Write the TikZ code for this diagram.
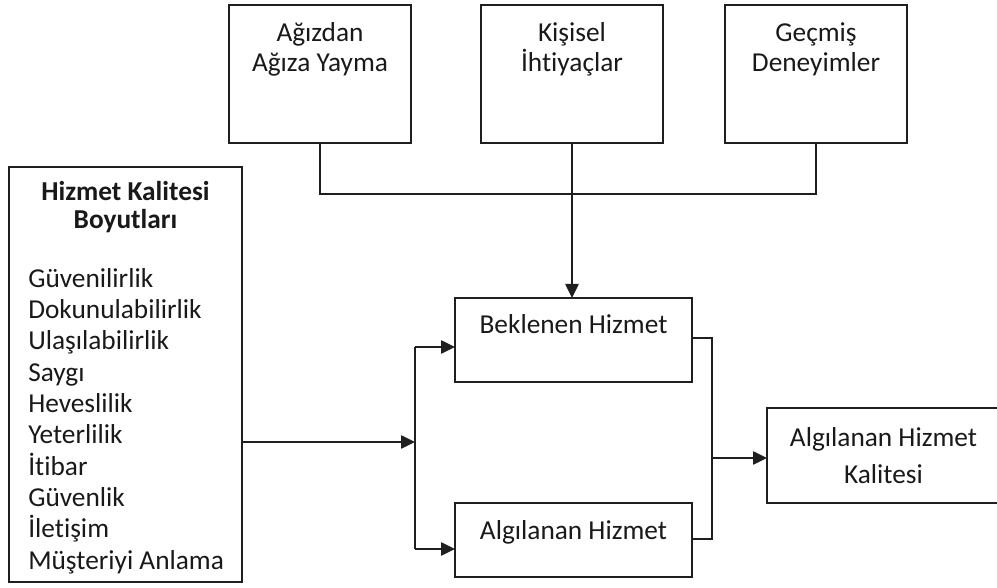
\documentclass[tikz,border=0pt]{standalone}
\usepackage{fontspec}
\setmainfont{Carlito}[Ligatures=NoCommon]
\usetikzlibrary{arrows.meta}

\tikzset{
  frame/.style={draw=black!88, line width=1.1pt, inner sep=0pt, outer sep=0pt},
  txt/.style={inner sep=0pt, anchor=base, text=black!90, font=\fontsize{20.5}{23.5}\selectfont},
  link/.style={draw=black!88, line width=1.1pt},
  arr/.style={link, -{Triangle[length=10.5pt, width=10pt]}}
}

\begin{document}
\begin{tikzpicture}[x=0.75pt, y=-0.75pt]
\useasboundingbox (0,0) rectangle (997,588);

% source boxes along the top
\node[frame, minimum width=136.5pt, minimum height=103.5pt] (b1) at (320,74) {};
\node[frame, minimum width=136.5pt, minimum height=103.5pt] (b2) at (572,74) {};
\node[frame, minimum width=136.5pt, minimum height=103.5pt] (b3) at (816,74) {};
\node[txt] (b1a) at (320,42) {Ağızdan};
\node[txt] (b1b) at (320,72) {Ağıza Yayma};
\node[txt] (b2a) at (572,42) {Kişisel};
\node[txt] (b2b) at (572,72) {İhtiyaçlar};
\node[txt] (b3a) at (816,42) {Geçmiş};
\node[txt] (b3b) at (816,72) {Deneyimler};

% service quality dimensions
\node[frame, minimum width=174.75pt, minimum height=311.25pt] (hkb) at (125.5,374.5) {};
\node[txt, font=\fontsize{20.5}{23.5}\selectfont\bfseries] (hk1) at (125.5,201) {Hizmet Kalitesi};
\node[txt, font=\fontsize{20.5}{23.5}\selectfont\bfseries] (hk2) at (125.5,229) {Boyutları};
\node[txt, anchor=base west, align=left] (hkl) at (28,569)
  {Güvenilirlik\\Dokunulabilirlik\\Ulaşılabilirlik\\Saygı\\Heveslilik\\Yeterlilik\\İtibar\\Güvenlik\\İletişim\\Müşteriyi Anlama};

% expected / perceived service
\node[frame, minimum width=177.75pt, minimum height=63pt] (bek) at (573.5,340) {};
\node[txt] (bekt) at (573.5,334) {Beklenen Hizmet};
\node[frame, minimum width=177.75pt, minimum height=55.5pt] (alg) at (573.5,540) {};
\node[txt] (algt) at (573.5,539) {Algılanan Hizmet};

% perceived service quality
\node[frame, minimum width=174.75pt, minimum height=71.25pt] (fin) at (883.5,455.5) {};
\node[txt] (fin1) at (883.5,446) {Algılanan Hizmet};
\node[txt] (fin2) at (883.5,483) {Kalitesi};

% collector under the top boxes
\coordinate (jt) at (572,194);
\draw[link] (b1.south) |- (jt) -| (b3.south);
\draw[arr] (b2.south) -- (b2.south |- bek.north);

% split towards the two service boxes
\coordinate (sp) at (415,442);
\coordinate (spt) at (415,347);
\coordinate (spb) at (415,549);
\draw[arr] (hkb.east |- sp) -- (sp);
\draw[link] (spt) -- (spb);
\draw[arr] (spt) -- (spt -| bek.west);
\draw[arr] (spb) -- (spb -| alg.west);

% merge into the quality box
\coordinate (rt) at (712,338);
\coordinate (rb) at (712,539);
\coordinate (jr) at (712,458);
\draw[link] (rt -| bek.east) -- (rt) -- (rb) -- (rb -| alg.east);
\draw[arr] (jr) -- (jr -| fin.west);
\end{tikzpicture}
\end{document}
